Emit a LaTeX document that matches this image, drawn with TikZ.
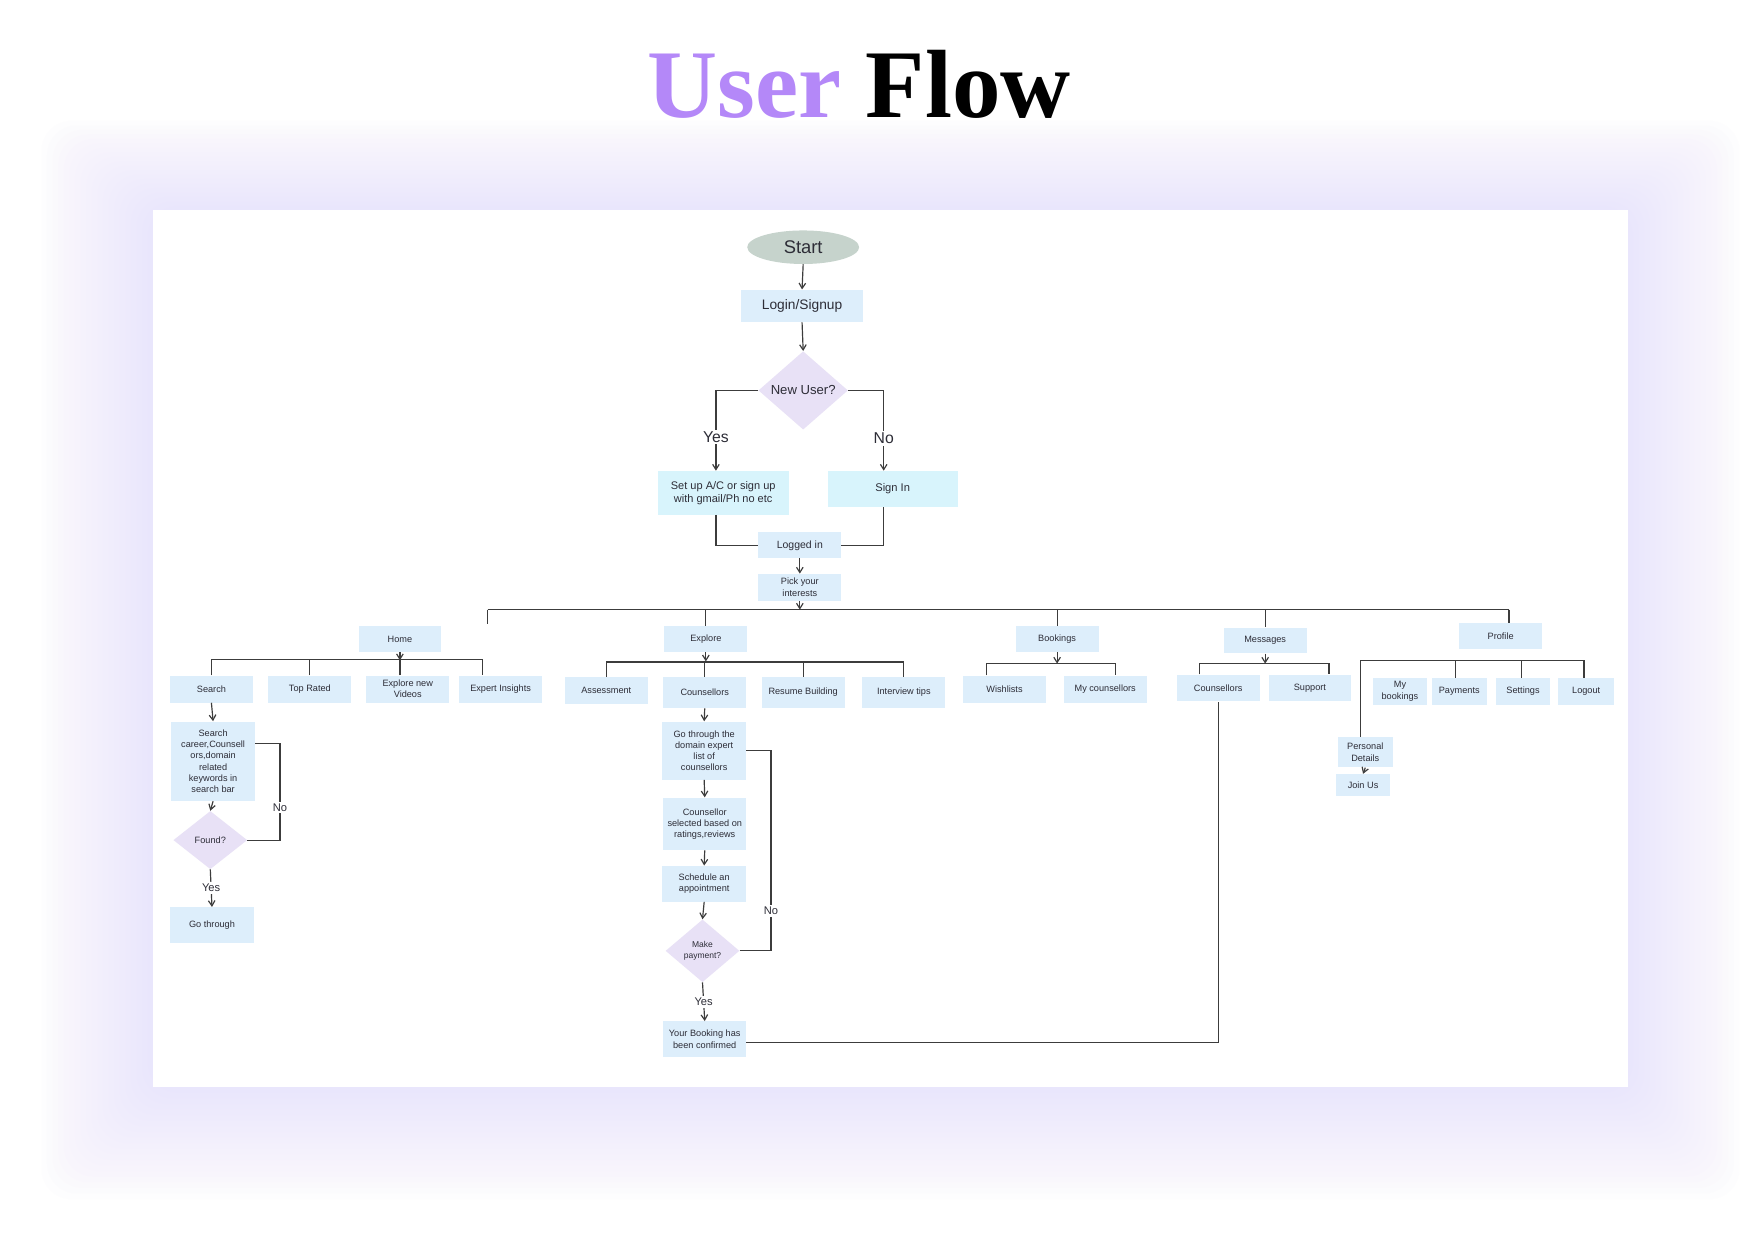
\documentclass[tikz,border=0pt]{standalone}
\usepackage{fontspec}
\setmainfont{Liberation Sans}
\newfontfamily\titlefont{Liberation Serif}
\usetikzlibrary{positioning, shapes.geometric, calc, arrows.meta}

\definecolor{boxblue}{RGB}{221,238,251}
\definecolor{signcyan}{RGB}{216,244,252}
\definecolor{decfill}{RGB}{232,225,246}
\definecolor{startfill}{RGB}{198,211,204}
\definecolor{titlepurple}{RGB}{180,136,248}
\definecolor{textc}{RGB}{45,45,55}
\definecolor{linec}{RGB}{60,60,60}
\definecolor{glow}{RGB}{224,217,252}

\begin{document}
\begin{tikzpicture}[x=0.03cm, y=-0.03cm,
    box/.style={rectangle, fill=boxblue, text=textc, align=center, inner sep=1pt, minimum width=2.22cm, minimum height=0.72cm, font=\fontsize{7}{8.5}\selectfont},
    decision/.style={diamond, aspect=1.2, fill=decfill, text=textc, align=center, inner sep=0pt, font=\fontsize{7}{8.5}\selectfont},
    ln/.style={draw=linec, line width=0.9pt},
    arr/.style={ln, -{Straight Barb[length=4pt, width=5pt]}},
    lbl/.style={fill=white, text=textc, inner sep=1.5pt, font=\fontsize{8.5}{9}\selectfont}]

        \useasboundingbox (0,0) rectangle (1568,1109);
        \fill[white] (0,0) rectangle (1568,1109);

        %-----Background-----

        % soft glow round the panel
        \foreach \g in {1,...,20}
            \fill[glow, fill opacity=0.035, rounded corners=0.8cm] ({137-5*\g},{188-4*\g}) rectangle ({1455+5*\g},{972+5*\g});
        \fill[white] (137,188) rectangle (1455,972);

        % Title
        \node[anchor=base, font=\titlefont\bfseries\fontsize{74}{80}\selectfont] (title) at (768,105) {\textcolor{titlepurple}{User} Flow};

        %-----Entry-----

        \node[ellipse, fill=startfill, text=textc, minimum width=3cm, minimum height=0.9cm, inner sep=0pt, font=\fontsize{14}{16}\selectfont] (start) at (718,221) {Start};
        \node[box, minimum width=3.27cm, minimum height=0.87cm, font=\fontsize{10.5}{12}\selectfont] (login) at (717,273.5) {Login/Signup};
        \node[decision, minimum width=2.4cm, minimum height=2.1cm, font=\fontsize{10}{12}\selectfont] (newuser) at (718,349) {New User?};
        \node[box, fill=signcyan, minimum width=3.51cm, minimum height=1.17cm, font=\fontsize{8.4}{10}\selectfont] (setup) at (646.5,440.5) {Set up A/C or sign up\\with gmail/Ph no etc};
        \node[box, fill=signcyan, minimum width=3.48cm, minimum height=0.96cm, font=\fontsize{8.5}{10}\selectfont] (signin) at (798,437) {Sign In};
        \node[box, minimum height=0.69cm, font=\fontsize{8}{9}\selectfont] (logged) at (715,487.5) {Logged in};
        \node[box] (pick) at (715,525) {Pick your\\interests};

        %-----Tabs-----

        \node[box, minimum height=0.69cm] (home) at (357.5,571.5) {Home};
        \node[box, minimum height=0.69cm] (explore) at (631,571.5) {Explore};
        \node[box, minimum height=0.69cm] (bookings) at (945,571.5) {Bookings};
        \node[box, minimum height=0.69cm] (messages) at (1131,572.5) {Messages};
        \node[box, minimum height=0.69cm] (profile) at (1341.5,568.5) {Profile};

        % Home
        \node[box] (search) at (189,616) {Search};
        \node[box] (rated) at (277,616) {Top Rated};
        \node[box] (videos) at (364.5,616) {Explore new\\Videos};
        \node[box] (insights) at (447.5,616) {Expert Insights};
        \node[box, minimum width=2.25cm, minimum height=2.13cm] (keywords) at (190.5,680.5) {Search\\career,Counsell\\ors,domain\\related\\keywords in\\search bar};
        \node[decision, minimum width=1.98cm, minimum height=1.56cm] (found) at (188,751) {Found?};
        \node[box, minimum width=2.25cm, minimum height=0.96cm] (gothrough) at (189.5,827) {Go through};

        % Explore
        \node[box] (assess) at (542,617) {Assessment};
        \node[box, minimum height=0.84cm] (counsellors) at (630,619) {Counsellors};
        \node[box, minimum height=0.84cm] (resume) at (718,619) {Resume Building};
        \node[box, minimum height=0.84cm] (tips) at (808,619) {Interview tips};
        \node[box, minimum width=2.25cm, minimum height=1.56cm] (domainlist) at (629.5,671) {Go through the\\domain expert\\list of\\counsellors};
        \node[box, minimum height=1.41cm] (selected) at (630,736.5) {Counsellor\\selected based on\\ratings,reviews};
        \node[box, minimum width=2.25cm, minimum height=0.96cm] (schedule) at (629.5,790) {Schedule an\\appointment};
        \node[decision, minimum width=1.98cm, minimum height=1.68cm, font=\fontsize{6.5}{8}\selectfont] (payment) at (628,850) {Make\\payment?};
        \node[box, minimum height=0.96cm] (confirmed) at (630,929) {Your Booking has\\been confirmed};

        % Bookings
        \node[box] (wishlists) at (898,616) {Wishlists};
        \node[box] (mycounsellors) at (988,616) {My counsellors};

        % Messages
        \node[box] (chatcounsellors) at (1089,615) {Counsellors};
        \node[box] (support) at (1171,615) {Support};

        % Profile
        \node[box, minimum width=1.47cm] (mybookings) at (1251.5,618) {My\\bookings};
        \node[box, minimum width=1.47cm] (payments) at (1304.5,618) {Payments};
        \node[box, minimum width=1.47cm] (settings) at (1361.5,618) {Settings};
        \node[box, minimum width=1.5cm] (logout) at (1418,618) {Logout};
        \node[box, minimum width=1.47cm, minimum height=0.81cm] (personal) at (1220.5,672.5) {Personal\\Details};
        \node[box, minimum width=1.47cm, minimum height=0.6cm] (joinus) at (1218.5,702) {Join Us};

        %-----Connectors-----

        % Entry
        \draw[arr] (start.south) -- (login.north);
        \draw[arr] (login.south) -- (newuser.north);
        \draw[arr] (newuser.west) -| ($(setup.north)+(-6.5,0)$) node[pos=0.79, lbl, font=\fontsize{12}{13}\selectfont] {Yes};
        \draw[arr] (newuser.east) -| ($(signin.north)+(-8,0)$) node[pos=0.8, lbl, font=\fontsize{12}{13}\selectfont] {No};
        \draw[ln] ($(setup.south)+(-6.5,0)$) |- (logged.west);
        \draw[ln] ($(signin.south)+(-8,0)$) |- (logged.east);
        \draw[arr] (logged.south) -- (pick.north);

        % Main bus
        \coordinate (busL) at (436,545);
        \coordinate (busR) at (1349,545);
        \draw[arr] (pick.south) -- (pick.south |- busL);
        \draw[ln] (busL) -- (busR);
        \draw[ln] (busL) -- ++(0,13);
        \draw[ln] (explore.north |- busL) -- (explore.north);
        \draw[ln] (bookings.north |- busL) -- (bookings.north);
        \draw[ln] (messages.north |- busL) -- (messages.north);
        \draw[ln] (busR) -- (busR |- profile.north);

        % Home branch
        \draw[arr] (home.south) -- ++(0,7);
        \draw[ln] (search.north) -- ++(0,-14) -| ($(insights.north)+(-16,0)$);
        \draw[ln] (rated.north) -- ++(0,-14);
        \draw[ln] ($(videos.north)+(-7,0)$) -- ++(0,-14);
        \draw[arr] (search.south) -- (keywords.north);
        \draw[arr] (keywords.south) -- (found.north);
        \draw[ln] (found.east) -- ++(29,0) |- ($(keywords.east)+(0,-15.5)$) node[pos=0.17, lbl] {No};
        \draw[arr] (found.south) -- (gothrough.north) node[midway, lbl] {Yes};

        % Explore branch
        \draw[arr] (explore.south) -- ++(0,8);
        \draw[ln] (assess.north) -- ++(0,-13) -| (tips.north);
        \draw[ln] (counsellors.north) -- ++(0,-13);
        \draw[ln] (resume.north) -- ++(0,-13);
        \draw[arr] (counsellors.south) -- (domainlist.north);
        \draw[arr] (domainlist.south) -- (selected.north);
        \draw[arr] (selected.south) -- (schedule.north);
        \draw[arr] (schedule.south) -- (payment.north);
        \draw[ln] (payment.east) -- ++(28,0) |- (domainlist.east) node[pos=0.1, lbl] {No};
        \draw[arr] (payment.south) -- (confirmed.north) node[midway, lbl] {Yes};
        \draw[ln] ($(confirmed.east)+(0,3)$) -| (chatcounsellors.south);

        % Bookings branch
        \draw[arr] (bookings.south) -- ++(0,10);
        \draw[ln] ($(wishlists.north)+(-16,0)$) -- ++(0,-11) -| ($(mycounsellors.north)+(9,0)$);

        % Messages branch
        \draw[arr] (messages.south) -- ++(0,9);
        \draw[ln] ($(chatcounsellors.north)+(-17,0)$) -- ++(0,-10) -| ($(support.north)+(17,0)$);

        % Profile branch
        \draw[ln] ($(personal.north)+(-4.5,0)$) |- ($(logout.north)+(-2,-15)$) -- ($(logout.north)+(-2,0)$);
        \draw[ln] ($(payments.north)+(-3.5,0)$) -- ++(0,-15);
        \draw[ln] ($(settings.north)+(-1.5,0)$) -- ++(0,-15);
        \draw[arr] (personal.south) -- (joinus.north);

    \end{tikzpicture}
\end{document}
